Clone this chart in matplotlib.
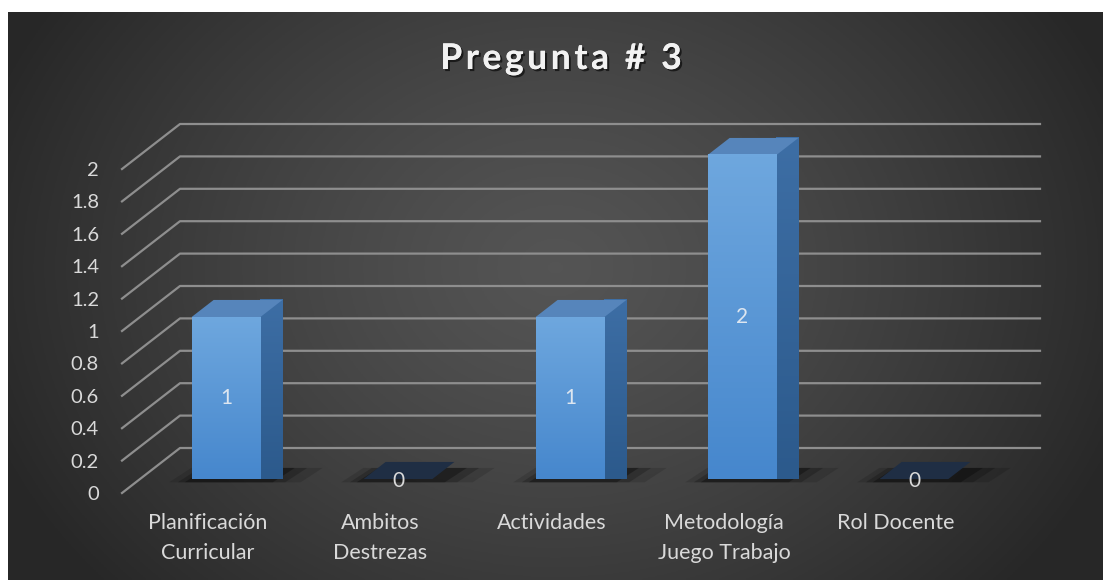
import numpy as np
import matplotlib
matplotlib.use('Agg')
import matplotlib.pyplot as plt
import matplotlib.patheffects as pe
from matplotlib.patches import Polygon, Rectangle
from matplotlib.colors import LinearSegmentedColormap
from matplotlib.font_manager import FontProperties

categories = ['Planificación\nCurricular', 'Ambitos\nDestrezas', 'Actividades',
              'Metodología\nJuego Trabajo', 'Rol Docente']
values = [1, 0, 1, 2, 0]
y_ticks = [0, 0.2, 0.4, 0.6, 0.8, 1, 1.2, 1.4, 1.6, 1.8, 2]
y_labels = ['0', '0.2', '0.4', '0.6', '0.8', '1', '1.2', '1.4', '1.6', '1.8', '2']
title = 'Pregunta # 3'

plt.rcParams['font.family'] = ['Lato', 'DejaVu Sans']
txt_color = '#d9d9d9'
grid_color = '#8e8e8e'

W, H = 1103, 580
fig = plt.figure(figsize=(W / 100, H / 100), dpi=100, facecolor='white')

# background with radial gradient
bg = fig.add_axes([8 / W, 0, 1 - 8 / W, 1 - 12 / H])
bg.set_axis_off()
gx, gy = np.meshgrid(np.linspace(0, 1, 400), np.linspace(0, 1, 220))
r = np.sqrt(((gx - 0.5) / 0.55) ** 2 + ((gy - 0.45) / 0.85) ** 2)
r = np.clip(r, 0, 1)
shade = 0.33 - (0.33 - 0.155) * r ** 1.3
bg.imshow(np.dstack([shade, shade, shade]), extent=[0, 1, 0, 1], aspect='auto', origin='upper')
bg.set_xlim(0, 1)
bg.set_ylim(0, 1)

# chart axes: front plane of the 3D box
ax = fig.add_axes([122 / W, 87 / H, 860 / W, 324 / H])
ax.set_xlim(-0.5, len(categories) - 0.5)
ax.set_ylim(0, 2)
ax.patch.set_visible(False)
for s in ax.spines.values():
    s.set_visible(False)

dx, dy = 58 / 172, 45 / 162      # depth of the box in data units
x_left = -0.5
x_right = len(categories) - 0.5

for v in y_ticks:
    ax.plot([x_left, x_left + dx, x_right + dx], [v, v + dy, v + dy],
            color=grid_color, lw=1.6, clip_on=False, zorder=1)

bar_w = 0.40
f0, f1 = 0.31, 0.38
ox, oy = f0 * dx, f0 * dy
bx, by = f1 * dx, f1 * dy

front_cmap = LinearSegmentedColormap.from_list('front', ['#4687cd', '#6ea7de'])
side_cmap = LinearSegmentedColormap.from_list('side', ['#2c5a8c', '#3d6ea5'])

for i, val in enumerate(values):
    x0 = i - bar_w / 2 + ox
    x1 = x0 + bar_w
    y0 = oy
    y1 = val + oy
    # soft shadow on the floor
    for k, a in zip([0.13, 0.08, 0.04], [0.13, 0.2, 0.3]):
        ax.add_patch(Polygon([[x0 - k, y0 - 0.02], [x1 + k * 1.8, y0 - 0.02],
                              [x1 + bx + k * 1.8, y0 + by * 0.65], [x0 + bx - k, y0 + by * 0.65]],
                             closed=True, facecolor='black', edgecolor='none', alpha=a,
                             zorder=2, clip_on=False))
    if val == 0:
        ax.add_patch(Polygon([[x0, y0], [x1, y0], [x1 + bx, y0 + by], [x0 + bx, y0 + by]],
                             closed=True, facecolor='#1f2e44', edgecolor='none',
                             zorder=3, clip_on=False))
        ax.text(i + ox, y0 - 0.01, '0', ha='center', va='center', color=txt_color,
                fontsize=15, zorder=6)
        continue
    # side face
    side = Polygon([[x1, y0], [x1 + bx, y0 + by], [x1 + bx, y1 + by], [x1, y1]],
                   closed=True, facecolor='#33649c', edgecolor='none', zorder=3, clip_on=False)
    ax.add_patch(side)
    im = ax.imshow(np.linspace(0, 1, 100).reshape(-1, 1), extent=[x1, x1 + bx, y0, y1 + by],
                   origin='lower', aspect='auto', cmap=side_cmap, zorder=3, clip_on=False)
    im.set_clip_path(side)
    # top face
    ax.add_patch(Polygon([[x0, y1], [x1, y1], [x1 + bx, y1 + by], [x0 + bx, y1 + by]],
                         closed=True, facecolor='#5685bb', edgecolor='none', zorder=4, clip_on=False))
    # front face
    front = Rectangle((x0, y0), bar_w, val, facecolor='#5797d8', edgecolor='none',
                      zorder=4, clip_on=False)
    ax.add_patch(front)
    im = ax.imshow(np.linspace(0, 1, 100).reshape(-1, 1), extent=[x0, x1, y0, y1],
                   origin='lower', aspect='auto', cmap=front_cmap, zorder=4, clip_on=False)
    im.set_clip_path(front)
    ax.text((x0 + x1) / 2, y0 + val / 2, str(val), ha='center', va='center',
            color='#dde6f0', fontsize=15, zorder=6)

ax.set_xlim(-0.5, len(categories) - 0.5)
ax.set_ylim(0, 2)

ax.set_yticks(y_ticks)
ax.set_yticklabels(y_labels, color=txt_color, fontsize=14.5)
ax.tick_params(axis='y', length=0, pad=16.5)

ax.set_xticks(range(len(categories)))
ax.set_xticklabels(categories, color=txt_color, fontsize=15.5, linespacing=1.62, va='top')
ax.tick_params(axis='x', length=0, pad=14.5)

# title with extra letter spacing
renderer = fig.canvas.get_renderer()
tp = FontProperties(family=['Lato', 'DejaVu Sans'], weight='bold', size=25.5)
track = 3.6
def char_w(c):
    if c == ' ':
        a = renderer.get_text_width_height_descent('x x', tp, ismath=False)[0]
        b = renderer.get_text_width_height_descent('xx', tp, ismath=False)[0]
        return a - b
    return renderer.get_text_width_height_descent(c, tp, ismath=False)[0]
widths = [char_w(c) for c in title]
total = sum(widths) + track * (len(title) - 1)
xpos = 561 - total / 2
shadow = [pe.withSimplePatchShadow(offset=(1.5, -1.5), shadow_rgbFace='black', alpha=0.6), pe.Normal()]
for c, w in zip(title, widths):
    if c != ' ':
        fig.text(xpos / W, 1 - 59 / H, c, ha='left', va='center', color='#f2f2f2',
                 fontproperties=tp, path_effects=shadow)
    xpos += w + track

fig.savefig('out.png', dpi=100, facecolor='white')
